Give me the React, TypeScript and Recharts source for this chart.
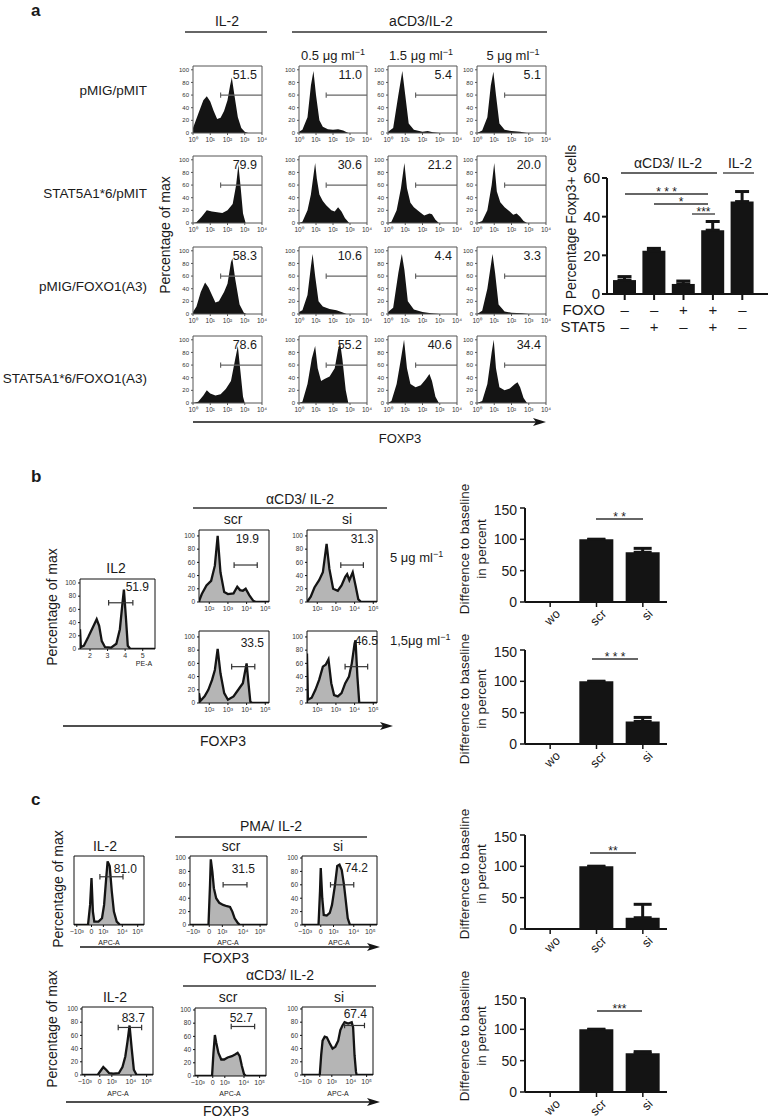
import React from "react"
import {
	Area,
	AreaChart,
	Bar,
	BarChart,
	ErrorBar,
	ReferenceArea,
	ReferenceLine,
	XAxis,
	YAxis,
} from "recharts"

type Pt = [number, number]

const FONT = "'Liberation Sans', Arial, Helvetica, sans-serif"
const INK = "#141414"

// ---------- panel a: FOXP3 histograms, x = log10 FOXP3, y = % of max ----------
const aLogTicks = [0, 1, 2, 3, 4]
const aLogLabels = ["10⁰", "10¹", "10²", "10³", "10⁴"]
const pctTicks = [0, 20, 40, 60, 80, 100]
const aRowNames = ["pMIG/pMIT", "STAT5A1*6/pMIT", "pMIG/FOXO1(A3)", "STAT5A1*6/FOXO1(A3)"]
const aDoses = ["0.5", "1.5", "5"]
const aGatePct = [
	["51.5", "11.0", "5.4", "5.1"],
	["79.9", "30.6", "21.2", "20.0"],
	["58.3", "10.6", "4.4", "3.3"],
	["78.6", "55.2", "40.6", "34.4"],
]
const aGate: [number, number, number] = [1.6, 4, 60]

const a11: Pt[] = [[0, 8], [0.3, 30], [0.6, 52], [0.8, 58], [1.0, 50], [1.2, 35], [1.4, 22], [1.6, 24], [1.8, 35], [2.0, 52], [2.15, 75], [2.25, 88], [2.4, 60], [2.6, 25], [2.8, 8], [3.0, 2], [3.2, 0], [4, 0]]
const a12: Pt[] = [[0, 2], [0.2, 5], [0.5, 25], [0.7, 75], [0.85, 98], [1.0, 60], [1.2, 20], [1.4, 10], [1.7, 6], [2.0, 5], [2.3, 6], [2.6, 4], [2.9, 0], [4, 0]]
const a13: Pt[] = [[0, 2], [0.3, 8], [0.6, 60], [0.83, 98], [1.0, 60], [1.2, 15], [1.5, 5], [2.0, 2], [2.3, 3], [2.6, 1], [3.0, 0], [4, 0]]
const a14: Pt[] = [[0, 0], [0.3, 4], [0.6, 25], [0.8, 75], [0.95, 97], [1.1, 60], [1.3, 15], [1.6, 5], [2.0, 3], [2.5, 2], [2.9, 0], [4, 0]]
const a21: Pt[] = [[0, 0], [0.2, 1], [0.5, 10], [0.8, 20], [1.1, 18], [1.4, 17], [1.7, 16], [2.0, 20], [2.3, 30], [2.5, 60], [2.63, 92], [2.75, 60], [2.9, 15], [3.05, 0], [4, 0]]
const a22: Pt[] = [[0, 0], [0.2, 2], [0.5, 20], [0.7, 45], [0.85, 75], [0.95, 95], [1.05, 70], [1.2, 45], [1.4, 35], [1.6, 28], [1.9, 20], [2.1, 18], [2.3, 25], [2.5, 18], [2.7, 8], [2.95, 0], [4, 0]]
const a23: Pt[] = [[0, 0], [0.2, 2], [0.5, 20], [0.75, 55], [0.95, 95], [1.1, 55], [1.3, 32], [1.5, 25], [1.8, 18], [2.1, 12], [2.4, 15], [2.55, 14], [2.75, 5], [2.95, 0], [4, 0]]
const a24: Pt[] = [[0, 0], [0.3, 3], [0.6, 20], [0.85, 60], [1.0, 95], [1.15, 50], [1.35, 33], [1.6, 25], [1.9, 18], [2.1, 13], [2.3, 15], [2.5, 10], [2.7, 3], [2.9, 0], [4, 0]]
const a31: Pt[] = [[0, 3], [0.2, 12], [0.45, 35], [0.7, 50], [0.9, 42], [1.1, 30], [1.3, 18], [1.5, 20], [1.8, 35], [2.0, 48], [2.2, 82], [2.28, 88], [2.45, 55], [2.7, 15], [2.95, 2], [3.1, 0], [4, 0]]
const a32: Pt[] = [[0, 3], [0.2, 6], [0.5, 30], [0.7, 75], [0.8, 95], [0.95, 60], [1.15, 20], [1.4, 12], [1.8, 8], [2.2, 6], [2.5, 3], [2.8, 0], [4, 0]]
const a33: Pt[] = [[0, 3], [0.3, 10], [0.6, 65], [0.8, 95], [0.95, 70], [1.15, 20], [1.5, 7], [2.0, 3], [2.5, 1], [3.0, 0], [4, 0]]
const a34: Pt[] = [[0, 0], [0.3, 5], [0.6, 40], [0.9, 95], [1.05, 65], [1.25, 15], [1.6, 4], [2.0, 2], [2.6, 1], [3.0, 0], [4, 0]]
const a41: Pt[] = [[0, 0], [0.3, 2], [0.6, 12], [0.8, 20], [1.0, 15], [1.3, 12], [1.6, 14], [1.9, 22], [2.2, 35], [2.45, 70], [2.6, 90], [2.75, 50], [2.9, 10], [3.0, 0], [4, 0]]
const a42: Pt[] = [[0, 0], [0.2, 2], [0.5, 30], [0.75, 70], [0.95, 90], [1.1, 55], [1.3, 35], [1.5, 38], [1.8, 42], [2.1, 55], [2.3, 85], [2.42, 95], [2.55, 70], [2.75, 20], [2.9, 0], [4, 0]]
const a43: Pt[] = [[0, 0], [0.2, 3], [0.5, 30], [0.75, 70], [0.93, 100], [1.1, 55], [1.3, 30], [1.6, 25], [1.9, 28], [2.2, 38], [2.4, 46], [2.55, 35], [2.75, 10], [2.95, 0], [4, 0]]
const a44: Pt[] = [[0, 0], [0.3, 3], [0.6, 30], [0.85, 80], [0.97, 100], [1.1, 55], [1.3, 25], [1.6, 20], [1.9, 23], [2.2, 30], [2.35, 33], [2.5, 25], [2.7, 8], [2.9, 0], [4, 0]]
const aHists = [
	[a11, a12, a13, a14],
	[a21, a22, a23, a24],
	[a31, a32, a33, a34],
	[a41, a42, a43, a44],
]

// panel a bars: % Foxp3+ cells
const aBarConds = ["aCD3", "aCD3 STAT5", "aCD3 FOXO", "aCD3 FOXO STAT5", "IL-2"]
const aBarFoxo = ["–", "–", "+", "+", "–"]
const aBarStat5 = ["–", "+", "–", "+", "–"]
const aBarPct = [7.2, 22.4, 5.2, 33, 47.8]
const aBarSem = [1.8, 1.2, 1.5, 4.5, 5.2]

// ---------- panel b ----------
const bIl2Ticks = [2, 3, 4, 5]
const bIl2Labels = ["2", "3", "4", "5"]
const bLogTicks = [2, 3, 4, 5]
const bLogLabels = ["10²", "10³", "10⁴", "10⁵"]
const bIl2: Pt[] = [[1.43, 0], [1.43, 30], [1.48, 3], [1.65, 5], [1.9, 18], [2.15, 32], [2.38, 45], [2.52, 35], [2.67, 12], [2.85, 3], [3.2, 2], [3.5, 8], [3.7, 30], [3.85, 70], [3.93, 90], [4.05, 45], [4.15, 5], [4.3, 0], [5.7, 0]]
const bScr5: Pt[] = [[1.45, 0], [1.5, 5], [1.6, 12], [1.85, 25], [2.1, 32], [2.3, 55], [2.45, 100], [2.6, 45], [2.8, 15], [3.0, 12], [3.3, 13], [3.5, 23], [3.65, 18], [3.8, 17], [3.95, 20], [4.15, 10], [4.35, 2], [4.5, 0], [5.2, 0]]
const bSi5: Pt[] = [[1.45, 0], [1.65, 8], [1.85, 22], [2.1, 33], [2.3, 45], [2.5, 88], [2.65, 50], [2.85, 20], [3.1, 17], [3.3, 25], [3.5, 38], [3.6, 42], [3.72, 33], [3.9, 45], [4.05, 25], [4.2, 4], [4.35, 0], [5.2, 0]]
const bScr15: Pt[] = [[1.45, 0], [1.45, 15], [1.52, 3], [1.75, 10], [1.95, 20], [2.15, 35], [2.3, 50], [2.45, 82], [2.6, 45], [2.8, 15], [3.0, 5], [3.3, 10], [3.6, 22], [3.8, 30], [3.9, 45], [4.0, 60], [4.1, 30], [4.2, 2], [4.3, 0], [5.2, 0]]
const bSi15: Pt[] = [[1.45, 0], [1.45, 75], [1.5, 5], [1.7, 8], [1.9, 20], [2.1, 35], [2.3, 55], [2.45, 58], [2.6, 66], [2.75, 30], [2.9, 12], [3.1, 10], [3.3, 15], [3.5, 30], [3.7, 40], [3.85, 60], [4.0, 90], [4.05, 95], [4.15, 40], [4.25, 0], [5.2, 0]]

const diffCats = ["wo", "scr", "si"]
const bDiff5 = [0, 100, 79.3]
const bDiff5Sem = [0, 0, 6.3]
const bDiff15 = [0, 100, 36]
const bDiff15Sem = [0, 0, 6.4]

// ---------- panel c (biexponential APC-A axis, display units 0-100) ----------
const cTicks = [4, 25, 42, 69, 91]
const cLabels = ["−10³", "0", "10³", "10⁴", "10⁵"]
const cIl2Pma: Pt[] = [[0, 0], [20, 0], [23, 30], [25, 70], [27, 20], [29, 5], [35, 5], [40, 10], [43, 30], [46, 70], [48, 95], [51, 88], [54, 50], [57, 20], [61, 5], [66, 0], [100, 0]]
const cScrPma: Pt[] = [[0, 0], [24, 0], [26, 60], [27, 98], [29, 80], [31, 55], [34, 40], [38, 33], [43, 30], [48, 28], [52, 27], [55, 20], [58, 10], [62, 3], [65, 0], [100, 0]]
const cSiPma: Pt[] = [[0, 0], [22, 0], [24, 50], [25, 85], [27, 40], [29, 15], [33, 14], [37, 18], [40, 30], [44, 60], [47, 88], [50, 90], [53, 82], [56, 60], [58, 40], [61, 10], [64, 0], [100, 0]]
const cIl2Cd3: Pt[] = [[0, 0], [22, 0], [26, 6], [30, 12], [34, 8], [38, 3], [44, 2], [52, 3], [57, 12], [61, 28], [64, 50], [67, 75], [70, 40], [73, 8], [77, 0], [100, 0]]
const cScrCd3: Pt[] = [[0, 0], [24, 0], [26, 35], [28, 62], [30, 50], [33, 35], [37, 25], [41, 25], [46, 28], [52, 30], [57, 33], [60, 35], [63, 30], [66, 15], [69, 3], [72, 0], [100, 0]]
const cSiCd3: Pt[] = [[0, 0], [25, 0], [27, 30], [29, 52], [32, 58], [35, 57], [39, 48], [43, 40], [47, 43], [51, 52], [54, 68], [57, 75], [60, 80], [65, 78], [70, 80], [72, 72], [74, 30], [76, 5], [77, 0], [100, 0]]

const cDiffPma = [0, 100, 18]
const cDiffPmaSem = [0, 0, 21.4]
const cDiffCd3 = [0, 100, 61.7]
const cDiffCd3Sem = [0, 0, 2.7]

// ---------- components ----------
interface HistProps {
	box: [number, number, number, number]
	pts: Pt[]
	xDomain: [number, number]
	xTicks: number[]
	xLabels: string[]
	yMax: number
	showY?: boolean
	solid?: boolean
	gate: [number, number, number]
	capBoth?: boolean
	pct: string
	pctAt: [number, number]
	pctSize: number
	tickFont: number
}

const Hist = ({ box, pts, xDomain, xTicks, xLabels, yMax, showY = true, solid = false, gate, capBoth = true, pct, pctAt, pctSize, tickFont }: HistProps) => {
	const [left, top, w, h] = box
	const yw = 18
	const xh = 16
	const rm = 9
	const data = pts.map(([x, y]) => ({ x, y }))
	const [g1, g2, gy] = gate
	const cap = yMax * 0.04
	const frame = solid ? "#555" : "#111"
	const gateInk = solid ? "#666" : "#333"
	return (
		<div style={{ position: "absolute", left: left - yw, top: top - 1 }}>
			<AreaChart width={yw + w + rm} height={h + 1 + xh} data={data} margin={{ top: 1, right: rm, bottom: 0, left: 0 }}>
				<XAxis
					type="number"
					dataKey="x"
					domain={xDomain}
					ticks={xTicks}
					interval={0}
					allowDataOverflow
					height={xh}
					axisLine={false}
					tickSize={2}
					tickLine={{ stroke: frame }}
					tick={{ fontSize: tickFont, fill: "#333", fontFamily: FONT }}
					tickFormatter={(v: number) => xLabels[xTicks.indexOf(v)] ?? ""}
				/>
				<YAxis
					type="number"
					domain={[0, yMax]}
					ticks={pctTicks}
					interval={0}
					allowDataOverflow
					width={yw}
					axisLine={false}
					tickSize={2}
					tickLine={showY ? { stroke: frame } : false}
					tick={showY ? { fontSize: tickFont - 0.5, fill: "#333", fontFamily: FONT } : false}
				/>
				<Area
					type="linear"
					dataKey="y"
					stroke={solid ? "none" : INK}
					strokeWidth={solid ? 0 : 2.3}
					fill={solid ? INK : "#b5b5b5"}
					fillOpacity={1}
					dot={false}
					activeDot={false}
					isAnimationActive={false}
				/>
				<ReferenceArea x1={xDomain[0]} x2={xDomain[1]} y1={0} y2={yMax} fill="none" stroke={frame} strokeWidth={1} ifOverflow="visible" />
				<ReferenceLine segment={[{ x: g1, y: gy }, { x: g2, y: gy }]} stroke={gateInk} strokeWidth={1.2} />
				<ReferenceLine segment={[{ x: g1, y: gy - cap }, { x: g1, y: gy + cap }]} stroke={gateInk} strokeWidth={1.2} />
				{capBoth && <ReferenceLine segment={[{ x: g2, y: gy - cap }, { x: g2, y: gy + cap }]} stroke={gateInk} strokeWidth={1.2} />}
			</AreaChart>
			<svg width={yw + w + 2} height={h} style={{ position: "absolute", left: 0, top: 0, overflow: "visible", pointerEvents: "none" }}>
				<text x={yw + w + pctAt[0]} y={1 + pctAt[1]} textAnchor="end" fontSize={pctSize} fontFamily={FONT} fill="#1a1a1a">
					{pct}
				</text>
			</svg>
		</div>
	)
}

const SlantTick = (props: any) => {
	const { x, y, payload } = props
	return (
		<g transform={`translate(${x + 5} ${y}) rotate(-45)`}>
			<text x={0} y={0} dy={8} textAnchor="end" fontSize={12.5} fontFamily={FONT} fill="#1a1a1a">
				{payload.value}
			</text>
		</g>
	)
}

const SignTick = (props: any) => {
	const { x, y, payload } = props
	const i = aBarConds.indexOf(payload.value)
	return (
		<g fontFamily={FONT} fill="#1a1a1a" fontSize={15}>
			<text x={x} y={y + 13} textAnchor="middle">{aBarFoxo[i]}</text>
			<text x={x} y={y + 30} textAnchor="middle">{aBarStat5[i]}</text>
		</g>
	)
}

const axisStyle = { stroke: INK, strokeWidth: 2 }

const DiffChart = ({ top, vals, sems }: { top: number; vals: number[]; sems: number[] }) => {
	const data = diffCats.map((name, i) => ({ name, v: vals[i], e: [0, sems[i]] }))
	return (
		<div style={{ position: "absolute", left: 483, top: top - 6 }}>
			<BarChart width={188} height={127} data={data} margin={{ top: 6, right: 4, bottom: 0, left: 0 }}>
				<XAxis dataKey="name" height={27} padding={{ left: 2, right: 1 }} axisLine={axisStyle} tickLine={{ stroke: INK, strokeWidth: 1.5 }} tickSize={5} tick={SlantTick} interval={0} />
				<YAxis domain={[0, 150]} ticks={[0, 50, 100, 150]} width={42} axisLine={axisStyle} tickLine={{ stroke: INK, strokeWidth: 1.5 }} tickSize={5} tickMargin={3} tick={{ fontSize: 14, fill: "#1a1a1a", fontFamily: FONT }} />
				<Bar dataKey="v" fill={INK} barSize={34} isAnimationActive={false}>
					<ErrorBar dataKey="e" width={9} strokeWidth={3} stroke={INK} />
				</Bar>
			</BarChart>
		</div>
	)
}

const FoxpBars = () => {
	const data = aBarConds.map((name, i) => ({ name, v: aBarPct[i], e: [0, aBarSem[i]] }))
	return (
		<div style={{ position: "absolute", left: 577, top: 168 }}>
			<BarChart width={196} height={166} data={data} margin={{ top: 10, right: 5, bottom: 0, left: 0 }}>
				<XAxis dataKey="name" height={40} padding={{ left: 3, right: 11 }} axisLine={axisStyle} tickLine={{ stroke: INK, strokeWidth: 2 }} tickSize={6} tick={SignTick} interval={0} />
				<YAxis domain={[0, 60]} ticks={[0, 20, 40, 60]} width={30} axisLine={axisStyle} tickLine={{ stroke: INK, strokeWidth: 2 }} tickSize={5} tick={{ fontSize: 15, fill: "#1a1a1a", fontFamily: FONT }} />
				<Bar dataKey="v" fill={INK} barSize={23} isAnimationActive={false}>
					<ErrorBar dataKey="e" width={7} strokeWidth={3} stroke={INK} />
				</Bar>
			</BarChart>
		</div>
	)
}

const Conc = ({ x, y, text, anchor = "middle" }: { x: number; y: number; text: string; anchor?: string }) => (
	<text x={x} y={y} fontSize={13} textAnchor={anchor as any}>
		{text}
		<tspan dy={-5} fontSize={9}>−1</tspan>
	</text>
)

const VText = ({ x, y, text, size = 14 }: { x: number; y: number; text: string; size?: number }) => (
	<text transform={`translate(${x} ${y}) rotate(-90)`} textAnchor="middle" fontSize={size}>
		{text}
	</text>
)

const Arrow = ({ x1, x2, y }: { x1: number; x2: number; y: number }) => (
	<g>
		<line x1={x1} x2={x2 - 8} y1={y} y2={y} stroke={INK} strokeWidth={1.5} />
		<polygon points={`${x2},${y} ${x2 - 13},${y - 4} ${x2 - 10},${y} ${x2 - 13},${y + 4}`} fill={INK} />
	</g>
)

const Sig = ({ x1, x2, y, stars }: { x1: number; x2: number; y: number; stars: string }) => (
	<g>
		<line x1={x1} x2={x2} y1={y} y2={y} stroke="#333" strokeWidth={1.3} />
		<text x={(x1 + x2) / 2} y={y + 2} textAnchor="middle" fontSize={12}>
			{stars}
		</text>
	</g>
)

const Rule = ({ x1, x2, y }: { x1: number; x2: number; y: number }) => <line x1={x1} x2={x2} y1={y} y2={y} stroke="#333" strokeWidth={1.3} />

const Overlay = () => (
	<svg width={773} height={1119} style={{ position: "absolute", left: 0, top: 0, pointerEvents: "none" }} fontFamily={FONT} fill="#1a1a1a">
		{/* panel a */}
		<text x={31} y={16} fontSize={17} fontWeight="bold">a</text>
		<text x={227} y={26} fontSize={14} textAnchor="middle">IL-2</text>
		<Rule x1={185} x2={267} y={32} />
		<text x={421} y={26} fontSize={14} textAnchor="middle">aCD3/IL-2</text>
		<Rule x1={292} x2={547} y={32} />
		<Conc x={333} y={60} text={`${aDoses[0]} μg ml`} />
		<Conc x={421} y={60} text={`${aDoses[1]} μg ml`} />
		<Conc x={513} y={60} text={`${aDoses[2]} μg ml`} />
		{aRowNames.map((n, i) => (
			<text key={n} x={147} y={[95, 198, 291, 383][i]} fontSize={13.5} textAnchor="end">{n}</text>
		))}
		<VText x={170} y={235} text="Percentage of max" />
		<Arrow x1={193} x2={546} y={422} />
		<text x={400} y={443} fontSize={13} textAnchor="middle">FOXP3</text>
		<text x={668} y={168} fontSize={14} textAnchor="middle">αCD3/ IL-2</text>
		<Rule x1={621} x2={717} y={173} />
		<text x={740} y={168} fontSize={14} textAnchor="middle">IL-2</text>
		<Rule x1={723} x2={754} y={173} />
		<VText x={576} y={222} text="Percentage Foxp3+ cells" />
		<text x={605} y={315} fontSize={15} textAnchor="end">FOXO</text>
		<text x={605} y={332} fontSize={15} textAnchor="end">STAT5</text>
		<Sig x1={625} x2={708} y={194} stars="* * *" />
		<Sig x1={654} x2={708} y={204} stars="*" />
		<Sig x1={692} x2={715} y={214} stars="***" />

		{/* panel b */}
		<text x={31} y={482} fontSize={17} fontWeight="bold">b</text>
		<text x={116} y={573} fontSize={14} textAnchor="middle">IL2</text>
		<text x={144} y={666} fontSize={7} textAnchor="middle">PE-A</text>
		<text x={300} y={504} fontSize={14} textAnchor="middle">αCD3/ IL-2</text>
		<Rule x1={193} x2={387} y={508} />
		<text x={233} y={524} fontSize={14} textAnchor="middle">scr</text>
		<text x={347} y={524} fontSize={14} textAnchor="middle">si</text>
		<Conc x={390} y={562} text="5 μg ml" anchor="start" />
		<Conc x={390} y={645} text="1,5μg ml" anchor="start" />
		<VText x={57} y={607} text="Percentage of max" />
		<Arrow x1={63} x2={393} y={726} />
		<text x={223} y={746} fontSize={14} textAnchor="middle">FOXP3</text>
		<VText x={469} y={549} text="Difference to baseline" size={13.5} />
		<VText x={486} y={549} text="in percent" size={13.5} />
		<VText x={469} y={699} text="Difference to baseline" size={13.5} />
		<VText x={486} y={699} text="in percent" size={13.5} />
		<Sig x1={596} x2={643} y={519} stars="* *" />
		<Sig x1={592} x2={638} y={659} stars="* * *" />

		{/* panel c */}
		<text x={31} y={805} fontSize={17} fontWeight="bold">c</text>
		<text x={271} y={831} fontSize={14} textAnchor="middle">PMA/ IL-2</text>
		<Rule x1={175} x2={367} y={837} />
		<text x={105} y={851} fontSize={14} textAnchor="middle">IL-2</text>
		<text x={231} y={851} fontSize={14} textAnchor="middle">scr</text>
		<text x={338} y={851} fontSize={14} textAnchor="middle">si</text>
		{[109, 228, 339].map((x) => (
			<text key={x} x={x} y={945} fontSize={7} textAnchor="middle">APC-A</text>
		))}
		<VText x={63} y={889} text="Percentage of max" />
		<Arrow x1={80} x2={380} y={947} />
		<text x={226} y={963} fontSize={14} textAnchor="middle">FOXP3</text>
		<text x={280} y={980} fontSize={14} textAnchor="middle">αCD3/ IL-2</text>
		<Rule x1={183} x2={376} y={986} />
		<text x={115} y={1002} fontSize={14} textAnchor="middle">IL-2</text>
		<text x={228} y={1002} fontSize={14} textAnchor="middle">scr</text>
		<text x={339} y={1002} fontSize={14} textAnchor="middle">si</text>
		{[118, 230, 338].map((x) => (
			<text key={x} x={x} y={1096} fontSize={7} textAnchor="middle">APC-A</text>
		))}
		<VText x={57} y={1029} text="Percentage of max" />
		<Arrow x1={66} x2={380} y={1102} />
		<text x={226} y={1116} fontSize={14} textAnchor="middle">FOXP3</text>
		<VText x={469} y={874} text="Difference to baseline" size={13.5} />
		<VText x={486} y={874} text="in percent" size={13.5} />
		<VText x={469} y={1036} text="Difference to baseline" size={13.5} />
		<VText x={486} y={1036} text="in percent" size={13.5} />
		<Sig x1={590} x2={636} y={853} stars="**" />
		<Sig x1={597} x2={642} y={1011} stars="***" />
	</svg>
)

// layout of the histogram frames (px)
const aColLeft = [193, 299, 388, 477]
const aColWidth = [69, 68, 69, 69]
const aRowTop = [66, 156, 247, 336]

const App = () => {
	const aProps = { xDomain: [0, 4] as [number, number], xTicks: aLogTicks, xLabels: aLogLabels, yMax: 106, solid: true, gate: aGate, capBoth: false, pctAt: [-5, 13] as [number, number], pctSize: 12.5, tickFont: 6.5 }
	const bProps = { xDomain: [1.45, 5.2] as [number, number], xTicks: bLogTicks, xLabels: bLogLabels, yMax: 109, pctSize: 12, tickFont: 7 }
	const cProps = { xDomain: [0, 100] as [number, number], xTicks: cTicks, xLabels: cLabels, yMax: 103, pctSize: 12, tickFont: 7 }
	return (
		<div style={{ position: "absolute", left: 0, top: 0, width: 773, height: 1119, background: "#fff", fontFamily: FONT, overflow: "hidden" }}>
			{aHists.map((row, r) =>
				row.map((pts, c) => (
					<Hist key={`a${r}${c}`} {...aProps} box={[aColLeft[c], aRowTop[r], aColWidth[c], 67]} pts={pts} pct={aGatePct[r][c]} />
				)),
			)}
			<FoxpBars />

			<Hist box={[80, 579, 75, 70]} pts={bIl2} xDomain={[1.43, 5.7]} xTicks={bIl2Ticks} xLabels={bIl2Labels} yMax={106} gate={[3.06, 4.44, 70]} pct="51.9" pctAt={[-6, 12]} pctSize={12} tickFont={7} />
			<Hist {...bProps} box={[199, 530, 70, 72]} pts={bScr5} gate={[3.33, 4.57, 56]} pct="19.9" pctAt={[-10, 13]} />
			<Hist {...bProps} box={[307, 530, 70, 72]} pts={bSi5} gate={[3.26, 4.47, 56]} pct="31.3" pctAt={[-3, 13]} />
			<Hist {...bProps} box={[199, 631, 70, 72]} pts={bScr15} gate={[3.2, 4.44, 55]} pct="33.5" pctAt={[-5, 16]} />
			<Hist {...bProps} box={[307, 631, 70, 72]} pts={bSi15} gate={[3.49, 4.7, 55]} pct="46.5" pctAt={[1, 14]} />
			<DiffChart top={508} vals={bDiff5} sems={bDiff5Sem} />
			<DiffChart top={650} vals={bDiff15} sems={bDiff15Sem} />

			<Hist {...cProps} box={[74, 856, 70, 69]} pts={cIl2Pma} showY={false} gate={[37, 70, 72]} pct="81.0" pctAt={[-7, 17]} />
			<Hist {...cProps} box={[190, 856, 77, 69]} pts={cScrPma} gate={[43, 74, 60]} pct="31.5" pctAt={[-12, 17]} />
			<Hist {...cProps} box={[302, 856, 75, 69]} pts={cSiPma} gate={[38, 69, 60]} pct="74.2" pctAt={[-9, 16]} />
			<Hist {...cProps} box={[82, 1007, 71, 68]} pts={cIl2Cd3} gate={[51, 84, 72]} pct="83.7" pctAt={[-8, 15]} />
			<Hist {...cProps} box={[195, 1008, 71, 68]} pts={cScrCd3} gate={[51, 84, 75]} pct="52.7" pctAt={[-13, 14]} />
			<Hist {...cProps} box={[302, 1007, 71, 68]} pts={cSiCd3} gate={[60, 88, 75]} pct="67.4" pctAt={[-6, 11]} />
			<DiffChart top={835} vals={cDiffPma} sems={cDiffPmaSem} />
			<DiffChart top={998} vals={cDiffCd3} sems={cDiffCd3Sem} />

			<Overlay />
		</div>
	)
}

export default App
